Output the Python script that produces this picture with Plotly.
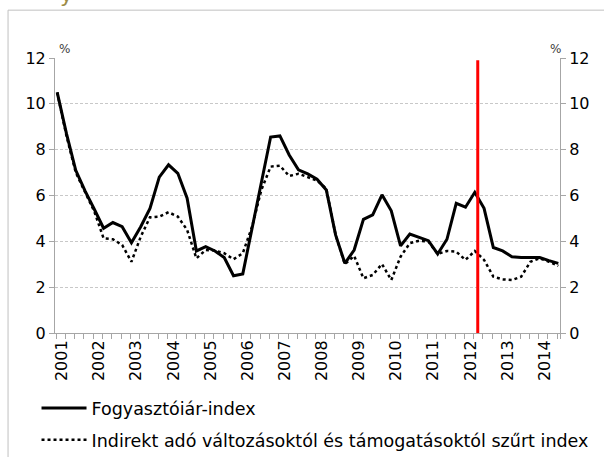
import plotly.graph_objects as go

# ---------------- data ----------------
start_year = 2001
quarters_per_year = 4
cpi = [10.5, 8.7, 7.1, 6.2, 5.4, 4.57, 4.82, 4.64, 3.94, 4.64,
       5.44, 6.8, 7.34, 6.97, 5.88, 3.58, 3.77, 3.58, 3.29, 2.5,
       2.58, 4.55, 6.6, 8.55, 8.6, 7.77, 7.12, 6.94, 6.71, 6.24,
       4.28, 3.04, 3.62, 4.96, 5.15, 6.03, 5.33, 3.8, 4.32, 4.18,
       4.03, 3.45, 4.09, 5.66, 5.49, 6.14, 5.44, 3.73, 3.58, 3.33,
       3.29, 3.29, 3.29, 3.16, 3.04]
filtered = [10.5, 8.6, 7.0, 6.15, 5.3, 4.13, 4.09, 3.84, 3.11, 4.2,
            5.05, 5.08, 5.27, 5.08, 4.5, 3.26, 3.62, 3.6, 3.48, 3.22,
            3.48, 4.64, 6.24, 7.26, 7.3, 6.85, 6.95, 6.8, 6.65, 6.3,
            4.28, 3.0, 3.36, 2.39, 2.53, 3.01, 2.31, 3.33, 3.92, 4.03,
            3.99, 3.45, 3.58, 3.55, 3.19, 3.58, 3.19, 2.46, 2.34, 2.31,
            2.46, 3.11, 3.26, 3.11, 2.93]
year_labels = [str(y) for y in range(2001, 2015)]
y_ticks = [0, 2, 4, 6, 8, 10, 12]
marker_line_x = 2012.33
names = ["Fogyasztóiár-index",
         "Indirekt adó változásoktól és támogatásoktól szűrt index"]

x = [start_year + i / quarters_per_year for i in range(len(cpi))]

FONT = "DejaVu Sans, Open Sans, sans-serif"
W, H = 604, 457
L, R, T, B = 54.5, 44, 58.3, 124
pw = W - L - R
ph = H - T - B

def px2x(px):
    return (px - L) / pw

def py2y(py):
    return (H - B - py) / ph

fig = go.Figure()
fig.add_trace(go.Scatter(x=x, y=cpi, mode="lines", name=names[0],
                         line=dict(color="black", width=3),
                         legendgroup="a", hoverinfo="skip"))
fig.add_trace(go.Scatter(x=x, y=filtered, mode="lines", name=names[1],
                         line=dict(color="black", width=2.5, dash="dot"),
                         legendgroup="b", hoverinfo="skip"))
fig.add_trace(go.Scatter(x=x, y=cpi, mode="lines", yaxis="y2",
                         line=dict(color="rgba(0,0,0,0)", width=0),
                         showlegend=False, hoverinfo="skip"))

xmin = 2001 - 2.2 / 37.16
xmax = 2014.5 + 1.7 / 37.16

fig.update_layout(
    width=W, height=H,
    margin=dict(l=L, r=R, t=T, b=B, autoexpand=False),
    paper_bgcolor="white", plot_bgcolor="white",
    font=dict(family=FONT, color="black"),
    xaxis=dict(
        range=[xmin, xmax],
        tickmode="array",
        tickvals=[int(y) + 0.13 for y in year_labels],
        ticktext=year_labels,
        tickangle=-90,
        ticks="", ticklen=0,
        tickfont=dict(size=16),
        showgrid=False, zeroline=False,
        showline=True, linecolor="#a6a6a6", linewidth=1,
        minor=dict(tickmode="array",
                   tickvals=[v - 0.03 for v in x] + [xmax],
                   ticks="outside", ticklen=5, tickcolor="#a6a6a6",
                   showgrid=False),
    ),
    yaxis=dict(
        range=[0, 12], tickvals=y_ticks,
        ticks="outside", ticklen=5, tickcolor="#a6a6a6",
        tickfont=dict(size=16),
        showline=True, linecolor="#a6a6a6", linewidth=1,
        showgrid=True, gridcolor="#c8c8c8", griddash="3px,2px", gridwidth=1,
        zeroline=False,
    ),
    yaxis2=dict(
        range=[0, 12], tickvals=y_ticks, overlaying="y", side="right",
        ticks="outside", ticklen=5, tickcolor="#a6a6a6",
        tickfont=dict(size=16),
        showline=True, linecolor="#a6a6a6", linewidth=1,
        showgrid=False, zeroline=False,
    ),
    showlegend=True,
    legend=dict(
        x=px2x(36), y=py2y(390), xanchor="left", yanchor="top",
        orientation="v", font=dict(size=17.5, family=FONT),
        tracegroupgap=6, itemwidth=45, bgcolor="rgba(0,0,0,0)",
    ),
    shapes=[
        dict(type="line", xref="x", yref="y", x0=marker_line_x, x1=marker_line_x,
             y0=0, y1=11.9, line=dict(color="#ff0000", width=3)),
        dict(type="rect", xref="paper", yref="paper",
             x0=px2x(7.5), x1=px2x(W + 20), y0=py2y(H + 20), y1=py2y(10.5),
             line=dict(color="#c0c0c0", width=1), layer="below"),
    ],
    annotations=[
        dict(text="%", xref="paper", yref="paper", x=px2x(57), y=py2y(40),
             showarrow=False, font=dict(size=12, color="#404040")),
        dict(text="%", xref="paper", yref="paper", x=px2x(563), y=py2y(40),
             showarrow=False, font=dict(size=12, color="#404040")),
        dict(text="y", xref="paper", yref="paper", x=px2x(66), y=py2y(9),
             xanchor="center", yanchor="bottom", showarrow=False,
             font=dict(size=22, color="#9c8c46", family=FONT)),
    ],
)

fig.write_html(
    "out.html",
    config={"displayModeBar": False},
    post_script="document.body.style.margin='0';document.body.style.overflow='hidden';",
)
